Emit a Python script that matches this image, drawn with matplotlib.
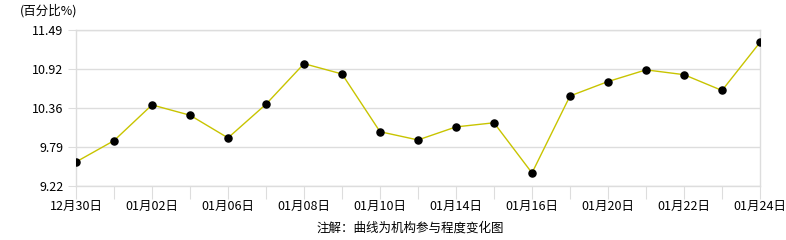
import matplotlib
matplotlib.use("Agg")
import matplotlib.pyplot as plt

plt.rcParams['font.family'] = ['Noto Sans CJK SC', 'DejaVu Sans']

# ---- data ----
dates = ['12月30日', '12月31日', '01月02日', '01月03日', '01月06日', '01月07日',
         '01月08日', '01月09日', '01月10日', '01月13日', '01月14日', '01月15日',
         '01月16日', '01月17日', '01月20日', '01月21日', '01月22日', '01月23日',
         '01月24日']
values = [9.57, 9.88, 10.40, 10.25, 9.92, 10.41, 11.00, 10.85, 10.01, 9.89,
          10.08, 10.14, 9.41, 10.53, 10.74, 10.91, 10.84, 10.61, 11.31]
yticks = [9.22, 9.79, 10.36, 10.92, 11.49]
ytick_labels = ['9.22', '9.79', '10.36', '10.92', '11.49']

grid_col = '#dddddd'
line_col = '#c8c400'

fig = plt.figure(figsize=(7.86, 2.40), dpi=100)
ax = fig.add_axes([76 / 786, 54 / 240, 684 / 786, 156 / 240])

x = list(range(len(dates)))
ax.plot(x, values, color=line_col, lw=1.0, zorder=3)
ax.scatter(x, values, s=26, color='black', zorder=4)

ax.set_xlim(0, len(dates) - 1)
ax.set_ylim(yticks[0], yticks[-1])

ax.set_yticks(yticks)
ax.set_yticklabels(ytick_labels, fontsize=9)
ax.set_xticks(x)
ax.set_xticklabels([d if i % 2 == 0 else '' for i, d in enumerate(dates)], fontsize=9)

ax.tick_params(axis='y', length=6, color=grid_col, pad=3)
ax.tick_params(axis='x', length=9, color=grid_col, pad=1)
ax.grid(axis='y', color=grid_col, lw=1)

for s in ax.spines.values():
    s.set_color(grid_col)
    s.set_linewidth(1)

fig.text(20 / 786, 1 - 11 / 240, '(百分比%)', fontsize=9, va='center', ha='left')
fig.text(410 / 786, 1 - 228 / 240, '注解：曲线为机构参与程度变化图', fontsize=9,
         va='center', ha='center')

fig.savefig('out.png', dpi=100)
